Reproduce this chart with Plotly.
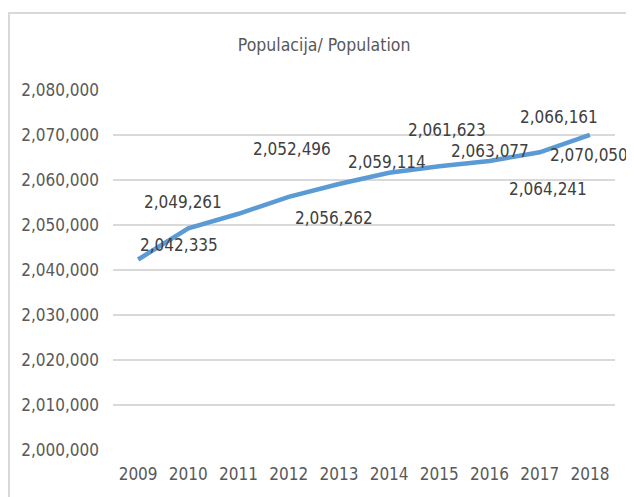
import plotly.graph_objects as go

# population data
years = ["2009", "2010", "2011", "2012", "2013", "2014", "2015", "2016", "2017", "2018"]
population = [2042335, 2049261, 2052496, 2056262, 2059114, 2061623, 2063077, 2064241, 2066161, 2070050]
y_ticks = [2000000, 2010000, 2020000, 2030000, 2040000, 2050000, 2060000, 2070000, 2080000]

# label offsets in pixels (dx, dy up), as Excel placed them
label_shift = [(41, 14), (-5, 26), (53, 65), (45, -21), (48, 22),
               (58, 43), (51, 15), (58, -28), (19, 35), (-1, -20)]

FONT = "DejaVu Sans Condensed, Roboto, sans-serif"

fig = go.Figure()
fig.add_trace(go.Scatter(x=years, y=population, mode="lines",
                         line=dict(color="#5B9BD5", width=4.5, shape="linear"),
                         hoverinfo="x+y"))

# category axis annotations use the category index
for i, (val, (dx, dy)) in enumerate(zip(population, label_shift)):
    fig.add_annotation(x=i, y=val, text=f"{val:,}", showarrow=False,
                       xshift=dx, yshift=dy,
                       font=dict(family=FONT, size=17, color="#404040"))

# page body has an 8px margin, so the figure is 8px smaller than the window
fig.update_layout(
    width=626, height=489,
    margin=dict(l=105, r=19, t=82, b=47),
    paper_bgcolor="white", plot_bgcolor="white",
    showlegend=False,
    title=dict(text="Populacija/ Population", x=0.505, xanchor="center",
               y=1 - 37 / 489, yanchor="middle",
               font=dict(family=FONT, size=17.5, color="#595959")),
    font=dict(family=FONT, color="#595959"),
)
fig.update_xaxes(type="category", showgrid=False, showline=False, ticks="",
                 ticklabelstandoff=12, automargin=False,
                 tickfont=dict(size=17, color="#595959"), range=[-0.5, 9.5])
fig.update_yaxes(range=[2000000, 2080000], tickvals=y_ticks,
                 tickformat=",", gridcolor="#D9D9D9", gridwidth=1.5,
                 zeroline=False, showline=False, ticks="", ticklabelstandoff=13,
                 automargin=False,
                 tickfont=dict(size=17, color="#595959"))

# chart area border (Excel frame, partly cut off)
fig.add_shape(type="rect", xref="paper", yref="paper",
              x0=-104 / 502, y0=-0.3, x1=1.2, y1=1 + 77 / 360,
              line=dict(color="#D9D9D9", width=2), fillcolor="rgba(0,0,0,0)")

fig.write_html("out.html")
